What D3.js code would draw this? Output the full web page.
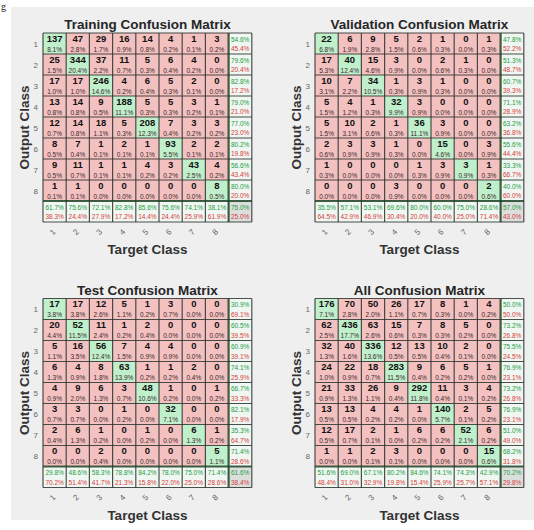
<!DOCTYPE html>
<html><head><meta charset="utf-8">
<script src="https://cdn.jsdelivr.net/npm/d3@7"></script>
<style>html,body{margin:0;padding:0;background:#fff;}svg{display:block;}</style>
</head><body><svg id="c" width="534" height="530"></svg>
<script>
const classes = ["1","2","3","4","5","6","7","8"];
const titles = ["Training Confusion Matrix","Validation Confusion Matrix","Test Confusion Matrix","All Confusion Matrix"];
const trainCounts = [
  [137,47,29,16,14,4,1,3],
  [25,344,37,11,5,6,4,0],
  [17,17,246,4,6,5,2,0],
  [13,14,9,188,5,5,3,1],
  [12,14,18,5,208,7,3,3],
  [8,7,1,2,1,93,2,2],
  [9,11,1,1,4,3,43,4],
  [1,1,0,0,0,0,0,8]
];
const valCounts = [
  [22,6,9,5,2,1,0,1],
  [17,40,15,3,0,2,1,0],
  [10,7,34,1,3,1,0,0],
  [5,4,1,32,3,0,0,0],
  [5,10,2,1,36,3,0,0],
  [2,3,3,1,0,15,0,3],
  [1,0,0,0,1,3,3,1],
  [0,0,0,3,0,0,0,2]
];
const testCounts = [
  [17,17,12,5,1,3,0,0],
  [20,52,11,1,2,0,0,0],
  [5,16,56,7,4,4,0,0],
  [6,4,8,63,1,1,2,0],
  [4,9,6,3,48,1,0,1],
  [3,3,0,1,0,32,0,0],
  [2,6,1,0,1,0,6,1],
  [0,0,2,0,0,0,0,5]
];
const allCounts = [
  [176,70,50,26,17,8,1,4],
  [62,436,63,15,7,8,5,0],
  [32,40,336,12,13,10,2,0],
  [24,22,18,283,9,6,5,1],
  [21,33,26,9,292,11,3,4],
  [13,13,4,4,1,140,2,5],
  [12,17,2,1,6,6,52,6],
  [1,1,2,3,0,0,0,15]
];
const matrices = [trainCounts, valCounts, testCounts, allCounts];

const svg = d3.select("#c");
svg.append("rect").attr("x",0).attr("y",0).attr("width",534).attr("height",530).attr("fill","#ffffff");
svg.append("rect").attr("x",11).attr("y",7).attr("width",523).attr("height",513).attr("fill","#efefef");
svg.append("text").attr("x",1).attr("y",10).attr("font-family","Liberation Serif").attr("font-size",10).attr("fill","#222").text("g");

const pink = "#f4c1c1", green = "#c0efcc", summ = "#f0f6f1", corner = "#dcdedc";
const gTxt = "#22a044", rTxt = "#d83c3c";
const cw = 23.2, ch = 21;
const origins = [[43,33],[315,33],[43,298.5],[315,298.5]];
const idx = d3.range(9);
const fmt = v => (Math.round(v*10)/10).toFixed(1) + "%";

matrices.forEach((M, p) => {
  const [x0, y0] = origins[p];
  const x = d3.scaleBand().domain(idx).range([x0, x0 + 9*cw]);
  const y = d3.scaleBand().domain(idx).range([y0, y0 + 9*ch]);
  const g = svg.append("g");
  const total = d3.sum(M.flat());
  const cells = [];
  for (let r = 0; r < 9; r++) for (let c = 0; c < 9; c++) cells.push({r, c});
  const fillOf = d => {
    if (d.r === 8 && d.c === 8) return corner;
    if (d.r === 8 || d.c === 8) return summ;
    return d.r === d.c ? green : pink;
  };
  g.selectAll("rect.cell").data(cells).join("rect")
    .attr("x", d => x(d.c)).attr("y", d => y(d.r))
    .attr("width", x.bandwidth()).attr("height", y.bandwidth())
    .attr("fill", fillOf);
  const main = cells.filter(d => d.r < 8 && d.c < 8);
  g.selectAll("text.n").data(main).join("text")
    .attr("x", d => x(d.c) + cw/2).attr("y", d => y(d.r) + 8.5)
    .attr("text-anchor","middle").attr("font-family","Liberation Sans, Arial")
    .attr("font-weight","bold").attr("font-size",9.5).attr("fill","#111")
    .text(d => M[d.r][d.c]);
  g.selectAll("text.pc").data(main).join("text")
    .attr("x", d => x(d.c) + cw/2).attr("y", d => y(d.r) + 18.5)
    .attr("text-anchor","middle").attr("font-family","Liberation Sans, Arial")
    .attr("font-size",6.5).attr("fill","#3a2a2a")
    .text(d => fmt(M[d.r][d.c] / total * 100));
  const rowSums = M.map(r => d3.sum(r));
  const colSums = d3.range(8).map(c => d3.sum(M, r => r[c]));
  const diag = d3.range(8).map(i => M[i][i]);
  const summary = [];
  for (let i = 0; i < 8; i++) {
    const pr = rowSums[i] ? diag[i]/rowSums[i]*100 : NaN;
    summary.push({r:i, c:8, v:pr});
    const rc = colSums[i] ? diag[i]/colSums[i]*100 : NaN;
    summary.push({r:8, c:i, v:rc});
  }
  summary.push({r:8, c:8, v: d3.sum(diag)/total*100});
  const sfmt = v => isNaN(v) ? "NaN%" : fmt(v);
  const sfmt2 = v => isNaN(v) ? "NaN%" : fmt(100 - v);
  g.selectAll("text.sg").data(summary).join("text")
    .attr("x", d => x(d.c) + cw/2).attr("y", d => y(d.r) + 8.5)
    .attr("text-anchor","middle").attr("font-family","Liberation Sans, Arial")
    .attr("font-size",6.5).attr("fill",gTxt).text(d => sfmt(d.v));
  g.selectAll("text.sr").data(summary).join("text")
    .attr("x", d => x(d.c) + cw/2).attr("y", d => y(d.r) + 18)
    .attr("text-anchor","middle").attr("font-family","Liberation Sans, Arial")
    .attr("font-size",6.5).attr("fill",rTxt).text(d => sfmt2(d.v));
  g.selectAll("line.v").data(d3.range(10)).join("line")
    .attr("x1", i => x0 + i*cw).attr("x2", i => x0 + i*cw)
    .attr("y1", y0).attr("y2", y0 + 9*ch)
    .attr("stroke", i => i === 8 ? "#1d4426" : "#2c332e")
    .attr("stroke-opacity", 0.85)
    .attr("stroke-width", i => i === 8 ? 2.2 : 1.2);
  g.selectAll("line.h").data(d3.range(10)).join("line")
    .attr("y1", i => y0 + i*ch).attr("y2", i => y0 + i*ch)
    .attr("x1", x0).attr("x2", x0 + 9*cw)
    .attr("stroke", i => i === 8 ? "#1d4426" : "#2c332e")
    .attr("stroke-opacity", 0.85)
    .attr("stroke-width", i => i === 8 ? 2.2 : 1.2);
  g.selectAll("text.yt").data(classes).join("text")
    .attr("x", x0 - 5).attr("y", (d,i) => y(i) + ch/2 + 3)
    .attr("text-anchor","end").attr("font-family","Liberation Sans, Arial")
    .attr("font-size",8).attr("fill","#666").text(d => d);
  g.selectAll("text.xt").data(classes).join("text")
    .attr("transform", (d,i) => `translate(${x(i) + cw/2},${y0 + 9*ch + 12}) rotate(-45)`)
    .attr("text-anchor","middle").attr("font-family","Liberation Sans, Arial")
    .attr("font-size",8).attr("fill","#666").text(d => d);
  g.append("text").attr("x", x0 + 4.5*cw).attr("y", y0 - 4)
    .attr("text-anchor","middle").attr("font-family","Liberation Sans, Arial")
    .attr("font-weight","bold").attr("font-size",13.5).attr("fill","#262626").text(titles[p]);
  g.append("text").attr("x", x0 + 4.5*cw).attr("y", y0 + 9*ch + 32)
    .attr("text-anchor","middle").attr("font-family","Liberation Sans, Arial")
    .attr("font-weight","bold").attr("font-size",13.5).attr("fill","#333").text("Target Class");
  g.append("text").attr("transform", `translate(${x0 - 14},${y0 + 4.5*ch}) rotate(-90)`)
    .attr("text-anchor","middle").attr("font-family","Liberation Sans, Arial")
    .attr("font-weight","bold").attr("font-size",13.5).attr("fill","#333").text("Output Class");
});
</script></body></html>
